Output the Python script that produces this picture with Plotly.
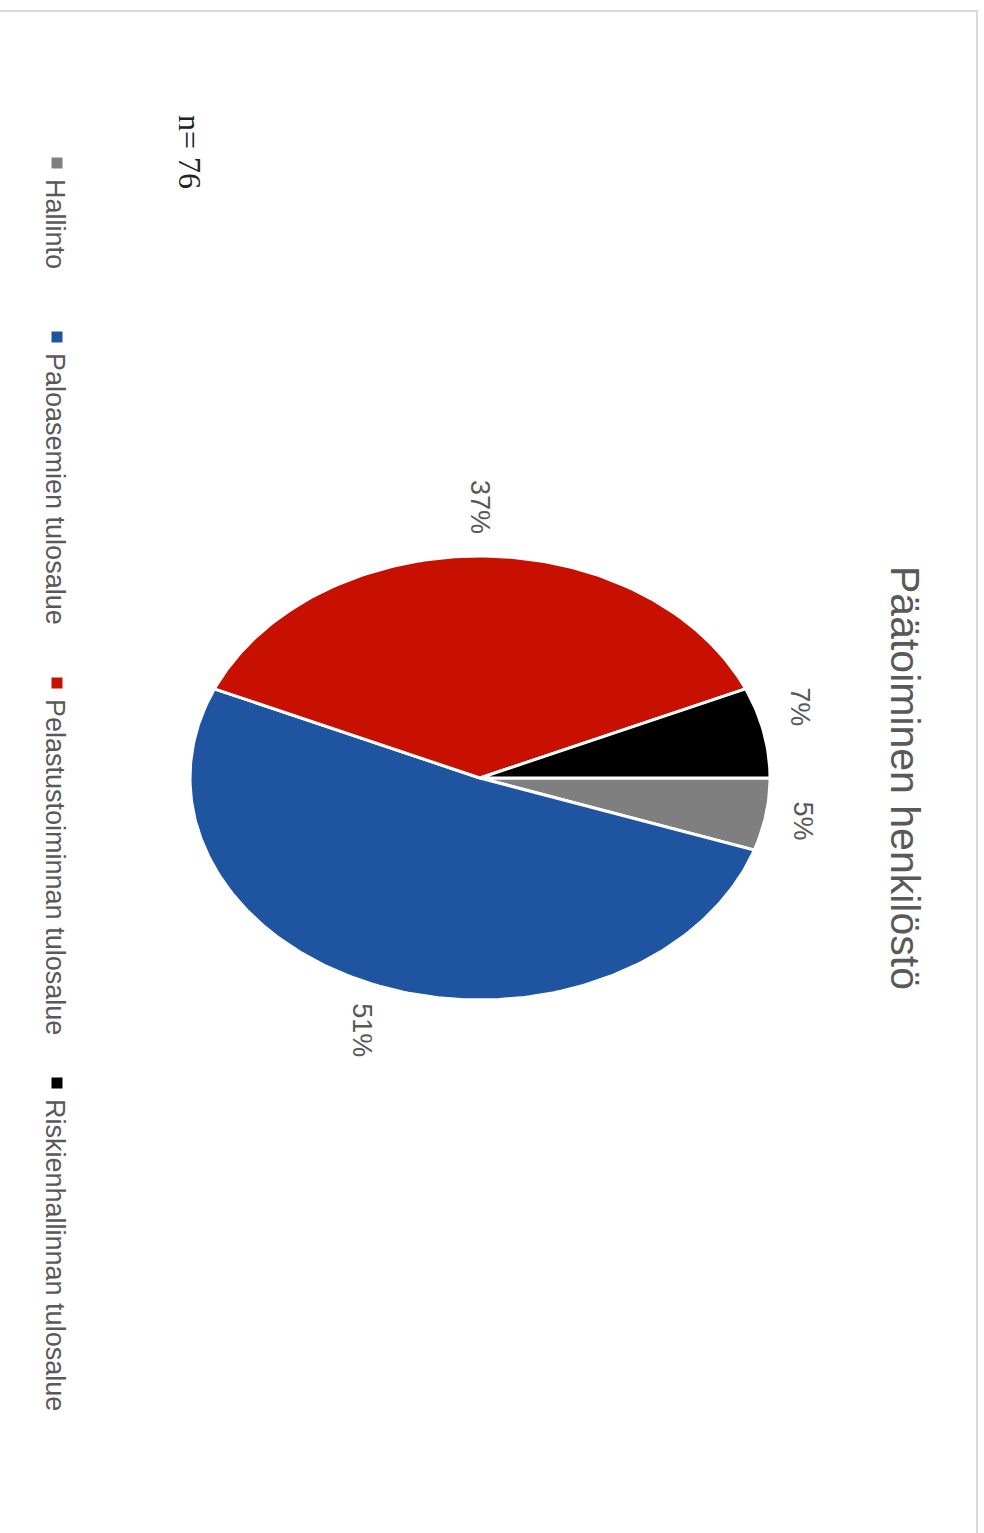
import math
import plotly.graph_objects as go

# Data
categories = ["Hallinto", "Paloasemien tulosalue", "Pelastustoiminnan tulosalue", "Riskienhallinnan tulosalue"]
counts = [4, 39, 28, 5]
title_text = "Päätoiminen henkilöstö"
n_text = "n= 76"

# Styling
colors = ["#7F7F7F", "#1F55A0", "#C81000", "#000000"]
text_gray = "#595959"
W, H = 984, 1533
CX, CY, RX, RY = 480, 778, 290, 222   # ellipse centre and radii in px
SANS = "Liberation Sans, Arial, sans-serif"

total = sum(counts)
fig = go.Figure()

# Pie slices drawn as filled polygons on a pixel-scaled axis (page rotated 90° clockwise)
start = 0.0
mids = []
for cat, c, col in zip(categories, counts, colors):
    span = 2 * math.pi * c / total
    steps = max(8, int(span / (2 * math.pi) * 360))
    ts = [start + span * k / steps for k in range(steps + 1)]
    xs = [CX] + [CX + RX * math.cos(t) for t in ts] + [CX]
    ys = [CY] + [CY + RY * math.sin(t) for t in ts] + [CY]
    fig.add_trace(go.Scatter(x=xs, y=ys, mode="lines", fill="toself", fillcolor=col,
                             line=dict(color="white", width=3), hoverinfo="skip",
                             showlegend=False, name=cat))
    mids.append(start + span / 2)
    start += span

# Percentage labels around the pie
gap = 22
nudges = {3: (0, -18)}
for i, (c, t) in enumerate(zip(counts, mids)):
    txt = f"{round(c / total * 100)}%"
    hw, hh = 15, len(txt) * 9
    x = CX + (RX + gap + hw) * math.cos(t)
    y = CY + (RY + gap + hh) * math.sin(t)
    dx, dy = nudges.get(i, (0, 0))
    fig.add_annotation(x=x + dx, y=y + dy, text=txt, showarrow=False, textangle=90,
                       xanchor="center", yanchor="middle",
                       font=dict(family=SANS, size=27, color=text_gray))

# Title
fig.add_annotation(x=905, y=778, text=title_text, showarrow=False, textangle=90,
                   xanchor="center", yanchor="middle",
                   font=dict(family=SANS, size=41, color=text_gray))

# Sample size
fig.add_annotation(x=190, y=152, text=n_text, showarrow=False, textangle=90,
                   xanchor="center", yanchor="middle",
                   font=dict(family="Liberation Serif, Times New Roman, serif", size=32, color="#222222"))

# Legend (markers + rotated labels)
legend_y = [163, 337, 683, 1083]
fig.add_trace(go.Scatter(x=[57] * len(categories), y=legend_y, mode="markers",
                         marker=dict(symbol="square", size=11, color=colors),
                         hoverinfo="skip", showlegend=False))
for cat, y in zip(categories, legend_y):
    fig.add_annotation(x=55, y=y + 14, text=cat, showarrow=False, textangle=90,
                       xanchor="center", yanchor="top",
                       font=dict(family=SANS, size=27, color=text_gray))

# Chart frame
fig.add_shape(type="rect", x0=-5, x1=977, y0=11, y1=H + 5,
              line=dict(color="#D9D9D9", width=2), fillcolor="rgba(0,0,0,0)", layer="below")

fig.update_layout(
    width=W, height=H, autosize=False,
    margin=dict(l=0, r=0, t=0, b=0),
    paper_bgcolor="white", plot_bgcolor="white",
    xaxis=dict(range=[0, W], visible=False, fixedrange=True),
    yaxis=dict(range=[H, 0], visible=False, fixedrange=True),
    showlegend=False,
)

fig.write_html("out.html")
